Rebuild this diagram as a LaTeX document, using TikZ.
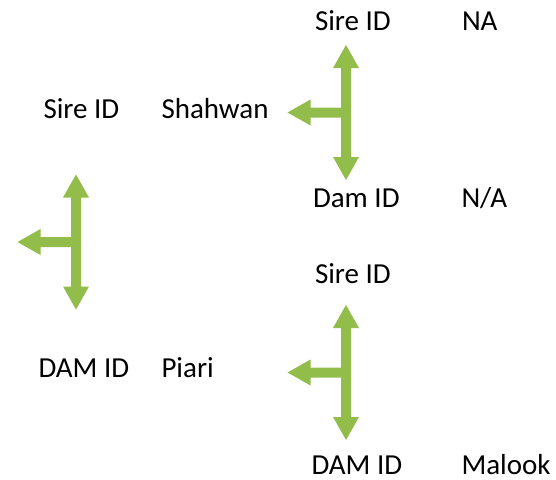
\documentclass[tikz,border=0pt]{standalone}
\usepackage{fontspec}
\setmainfont{Carlito}
\definecolor{arrowgreen}{RGB}{146,189,75}
\tikzset{
  lbl/.style={anchor=base west, inner sep=0pt, outer sep=0pt, font=\fontsize{29}{30}\selectfont, text=black},
  pics/tarrow/.style={code={
    \def\w{5}\def\h{13}\def\L{23}\def\V{67.5}\def\H{58.5}
    \fill[arrowgreen] (0,\V) -- (\h,\V-\L) -- (\w,\V-\L) -- (\w,-\V+\L) -- (\h,-\V+\L)
      -- (0,-\V) -- (-\h,-\V+\L) -- (-\w,-\V+\L) -- (-\w,\w) -- (-\H+\L,\w)
      -- (-\H+\L,\h) -- (-\H,0) -- (-\H+\L,-\h) -- (-\H+\L,-\w) -- (-\w,-\w)
      -- (-\w,\V-\L) -- (-\h,\V-\L) -- cycle;
  }}
}
\begin{document}
\begin{tikzpicture}[x=1pt,y=-1pt]
\useasboundingbox (0,0) rectangle (556,479);
\pic (a1) at (346,112.5) {tarrow};
\pic (a2) at (76,242) {tarrow};
\pic (a3) at (346,372.5) {tarrow};
\node[lbl] (s1) at (315,30) {Sire ID};
\node[lbl] (v1) at (462,30) {NA};
\node[lbl] (s0) at (43.5,118.3) {Sire ID};
\node[lbl] (v0) at (161.5,118.3) {Shahwan};
\node[lbl] (d1) at (313,207.3) {Dam ID};
\node[lbl] (w1) at (461.5,207.3) {N/A};
\node[lbl] (s2) at (315,283.3) {Sire ID};
\node[lbl] (d0) at (38.5,377.7) {DAM ID};
\node[lbl] (w0) at (161.5,377.7) {Piari};
\node[lbl] (d2) at (311.5,474.5) {DAM ID};
\node[lbl] (w2) at (461.5,474.5) {Malook};
\end{tikzpicture}
\end{document}
